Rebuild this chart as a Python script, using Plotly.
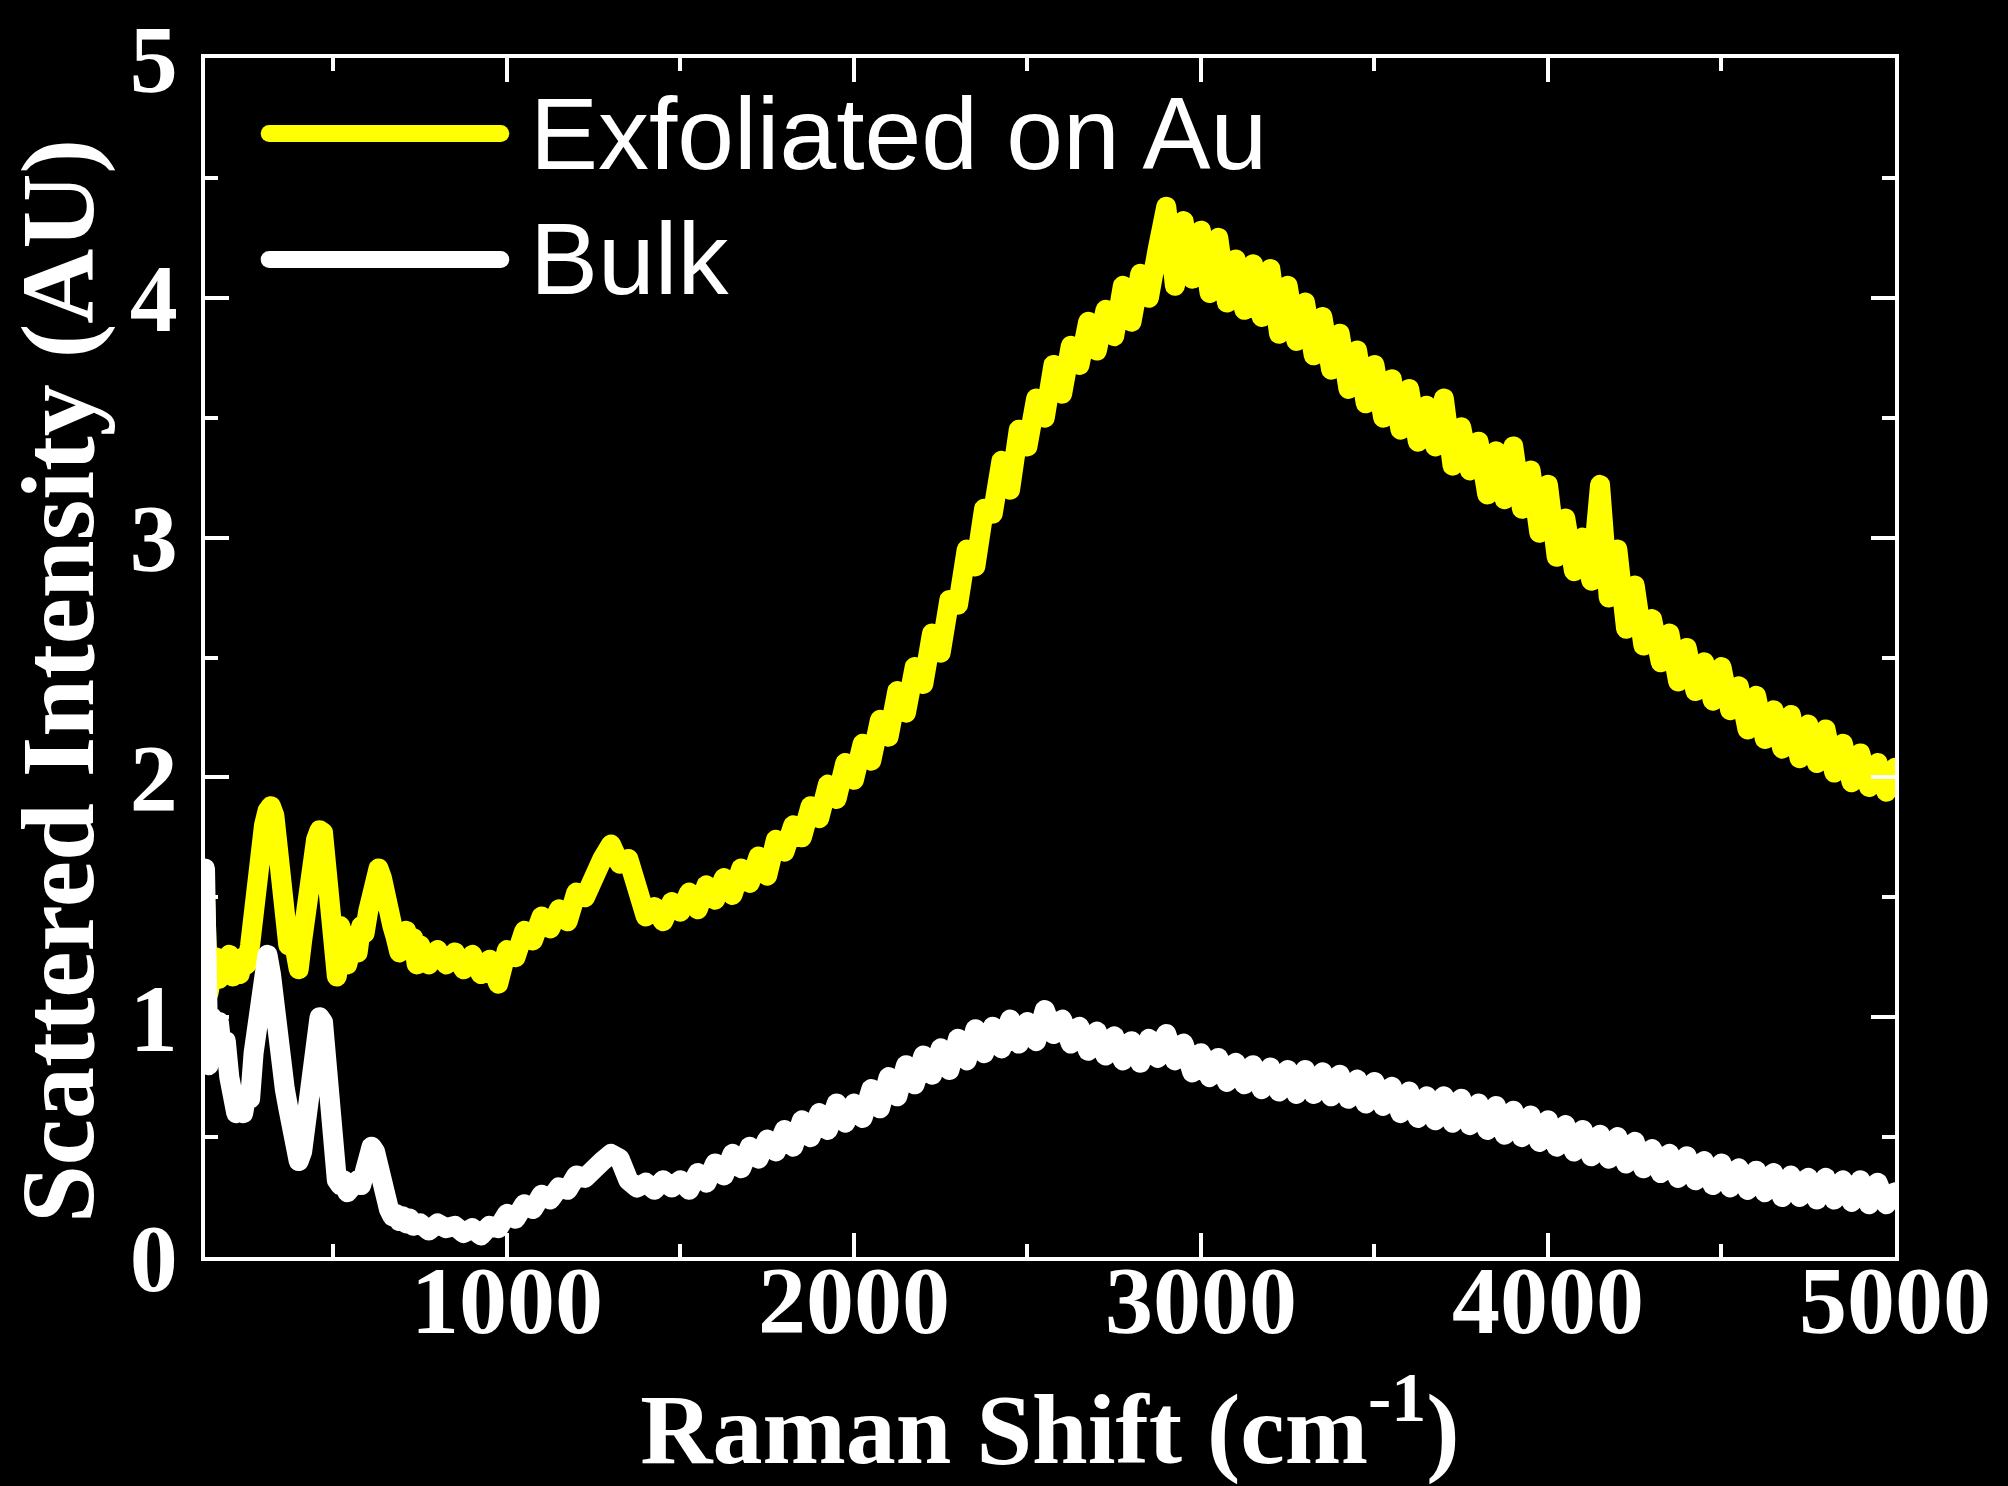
import plotly.graph_objects as go

# Raman spectra
shift_low = list(range(130, 750, 10))      # 130 .. 740 cm-1
shift_high = list(range(750, 5001, 25))    # 750 .. 5000 cm-1
raman_shift = shift_low + shift_high

exfoliated_low = [
    1.50, 1.10, 1.18, 1.25, 1.16, 1.24, 1.20, 1.26, 1.17, 1.22,
    1.18, 1.25, 1.22, 1.30, 1.45, 1.62, 1.78, 1.80, 1.86, 1.88,
    1.84, 1.66, 1.48, 1.38, 1.30, 1.36, 1.24, 1.20, 1.32, 1.45,
    1.52, 1.68, 1.74, 1.78, 1.77, 1.62, 1.42, 1.20, 1.17, 1.38,
    1.30, 1.22, 1.28, 1.34, 1.27, 1.38, 1.35, 1.44, 1.48, 1.58,
    1.62, 1.58, 1.46, 1.50, 1.38, 1.33, 1.27, 1.30, 1.36, 1.28,
    1.33, 1.22,
]
exfoliated_high = [
    1.30, 1.22, 1.28, 1.22, 1.27, 1.20, 1.26, 1.18, 1.24, 1.14,
    1.28, 1.25, 1.36, 1.32, 1.42, 1.37, 1.45, 1.40, 1.52, 1.50,
    1.60, 1.66, 1.72, 1.64, 1.66, 1.52, 1.42, 1.46, 1.40, 1.48,
    1.44, 1.52, 1.45, 1.55, 1.49, 1.58, 1.51, 1.62, 1.56, 1.67,
    1.59, 1.74, 1.69, 1.80, 1.75, 1.88, 1.83, 1.97, 1.91, 2.06,
    1.99, 2.14, 2.07, 2.24, 2.17, 2.36, 2.27, 2.46, 2.39, 2.60,
    2.52, 2.74, 2.72, 2.95, 2.88, 3.12, 3.10, 3.32, 3.20, 3.45,
    3.38, 3.58, 3.50, 3.72, 3.60, 3.80, 3.72, 3.90, 3.78, 3.95,
    3.84, 4.05, 3.90, 4.10, 4.00, 4.20, 4.38, 4.05, 4.32, 4.08,
    4.28, 4.02, 4.25, 3.98, 4.16, 3.95, 4.14, 3.92, 4.12, 3.85,
    4.05, 3.82, 3.98, 3.76, 3.92, 3.70, 3.85, 3.62, 3.78, 3.56,
    3.72, 3.50, 3.66, 3.45, 3.62, 3.40, 3.55, 3.38, 3.58, 3.30,
    3.46, 3.28, 3.40, 3.18, 3.36, 3.16, 3.38, 3.12, 3.28, 3.02,
    3.22, 2.92, 3.08, 2.86, 3.00, 2.82, 3.22, 2.75, 2.95, 2.62,
    2.80, 2.55, 2.66, 2.48, 2.60, 2.40, 2.54, 2.36, 2.48, 2.32,
    2.46, 2.28, 2.38, 2.20, 2.34, 2.16, 2.28, 2.12, 2.26, 2.08,
    2.22, 2.06, 2.20, 2.02, 2.14, 1.98, 2.10, 1.96, 2.06, 1.94,
    2.04,
]
exfoliated = exfoliated_low + exfoliated_high

bulk_low = [
    1.62, 0.80, 1.00, 0.92, 0.98, 0.85, 0.90, 0.75, 0.70, 0.60,
    0.64, 0.60, 0.68, 0.66, 0.85, 1.00, 1.12, 1.22, 1.26, 1.18,
    1.02, 0.86, 0.76, 0.70, 0.62, 0.52, 0.44, 0.40, 0.44, 0.55,
    0.70, 0.82, 0.96, 1.00, 0.98, 0.80, 0.50, 0.38, 0.32, 0.30,
    0.32, 0.27, 0.30, 0.29, 0.32, 0.30, 0.36, 0.42, 0.46, 0.44,
    0.36, 0.30, 0.24, 0.20, 0.17, 0.18, 0.15, 0.17, 0.14, 0.16,
    0.13, 0.15,
]
bulk_high = [
    0.14, 0.11, 0.14, 0.12, 0.13, 0.10, 0.12, 0.09, 0.13, 0.12,
    0.18, 0.16, 0.22, 0.20, 0.26, 0.24, 0.29, 0.28, 0.34, 0.33,
    0.38, 0.40, 0.43, 0.41, 0.32, 0.29, 0.31, 0.28, 0.32, 0.29,
    0.32, 0.28, 0.35, 0.31, 0.39, 0.34, 0.43, 0.37, 0.46, 0.41,
    0.49, 0.44, 0.53, 0.46, 0.57, 0.50, 0.60, 0.53, 0.64, 0.56,
    0.64, 0.58, 0.70, 0.62, 0.75, 0.67, 0.80, 0.72, 0.84, 0.76,
    0.87, 0.78, 0.91, 0.82, 0.95, 0.85, 0.96, 0.87, 0.99, 0.89,
    0.98, 0.90, 1.03, 0.93, 0.99, 0.89, 0.96, 0.86, 0.94, 0.84,
    0.92, 0.82, 0.90, 0.81, 0.91, 0.83, 0.93, 0.82, 0.89, 0.77,
    0.85, 0.75, 0.83, 0.73, 0.81, 0.72, 0.80, 0.70, 0.79, 0.69,
    0.78, 0.68, 0.78, 0.68, 0.77, 0.67, 0.76, 0.66, 0.74, 0.64,
    0.73, 0.63, 0.71, 0.60, 0.69, 0.58, 0.67, 0.57, 0.67, 0.56,
    0.66, 0.55, 0.64, 0.53, 0.63, 0.51, 0.61, 0.50, 0.59, 0.48,
    0.57, 0.46, 0.55, 0.44, 0.53, 0.42, 0.51, 0.41, 0.50, 0.39,
    0.48, 0.37, 0.45, 0.35, 0.43, 0.33, 0.42, 0.32, 0.40, 0.30,
    0.39, 0.29, 0.37, 0.28, 0.36, 0.27, 0.35, 0.25, 0.34, 0.25,
    0.33, 0.24, 0.33, 0.24, 0.32, 0.23, 0.32, 0.22, 0.31, 0.22,
    0.27,
]
bulk = bulk_low + bulk_high

series_names = ["Exfoliated on Au", "Bulk"]
series_colors = ["#ffff00", "#ffffff"]

SERIF = "Liberation Serif, Times New Roman, serif"
SANS = "Liberation Sans, Arial, sans-serif"

fig = go.Figure()
fig.add_trace(go.Scatter(x=raman_shift, y=exfoliated, mode="lines", name=series_names[0],
                         line=dict(color=series_colors[0], width=20)))
fig.add_trace(go.Scatter(x=raman_shift, y=bulk, mode="lines", name=series_names[1],
                         line=dict(color=series_colors[1], width=20)))

axis_common = dict(
    showline=True, linecolor="white", linewidth=4, mirror="ticks",
    ticks="inside", ticklen=24, tickwidth=4, tickcolor="white",
    showgrid=False, zeroline=False, automargin=False,
    tickfont=dict(family=SERIF, size=96, color="white", weight="bold"),
)

fig.update_xaxes(
    range=[130, 5000], tick0=0, dtick=1000, ticklabelstandoff=-43,
    minor=dict(dtick=500, ticks="inside", ticklen=13, tickwidth=4, tickcolor="white"),
    title=dict(text="Raman Shift (cm<sup>-1</sup>)", standoff=41,
               font=dict(family=SERIF, size=100, color="white", weight="bold")),
    **axis_common,
)
fig.update_yaxes(
    range=[0, 5], tick0=0, dtick=1, ticklabelstandoff=4,
    minor=dict(dtick=0.5, ticks="inside", ticklen=13, tickwidth=4, tickcolor="white"),
    **axis_common,
)

# y title as an annotation so it can sit slightly below the plot centre, as in the original
fig.add_annotation(text="Scattered Intensity (AU)", xref="paper", yref="paper",
                   x=-0.087, y=0.4804, xanchor="center", yanchor="middle", textangle=-90,
                   showarrow=False, font=dict(family=SERIF, size=104, color="white", weight="bold"))

# hand-drawn legend with long line samples, like the original figure
legend_y = [0.937, 0.832]
for name, color, y in zip(series_names, series_colors, legend_y):
    fig.add_shape(type="line", xref="paper", yref="paper", x0=0.038, x1=0.175, y0=y, y1=y,
                  line=dict(color=color, width=17))
    fig.add_annotation(text=name, xref="paper", yref="paper", x=0.191, y=y,
                       xanchor="left", yanchor="middle", showarrow=False,
                       font=dict(family=SANS, size=102, color="white"))

fig.update_layout(
    width=2008, height=1486,
    paper_bgcolor="black", plot_bgcolor="black",
    margin=dict(l=205, r=113, t=58, b=229),
    showlegend=False,
)

# black page without the default body margin; rounded line joins like the original
page_js = """
document.body.style.margin = '0';
document.body.style.background = 'black';
document.querySelectorAll('.scatterlayer path.js-line, .shapelayer path').forEach(function (p) {
    p.style.strokeLinejoin = 'round';
    p.style.strokeLinecap = 'round';
});
"""

fig.write_html("out.html", post_script=page_js, config={"displayModeBar": False})
